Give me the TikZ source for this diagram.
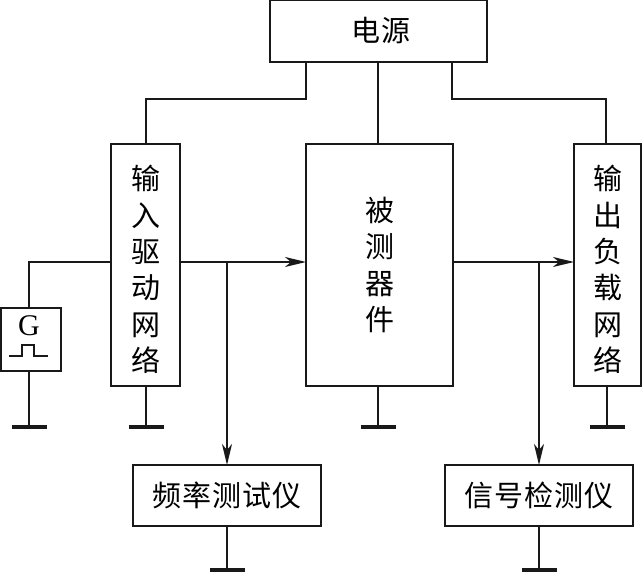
\documentclass[tikz,border=0pt]{standalone}
\usepackage{fontspec}
\usetikzlibrary{arrows.meta,positioning,calc}
\setmainfont{Liberation Serif}
\newfontfamily\cjk{Noto Sans CJK SC}
\newfontfamily\cjkwide[LetterSpace=4]{Noto Sans CJK SC}
\tikzset{
  wire/.style={line width=1.9pt,draw=black!90},
  feed/.style={wire,-{Stealth[length=21pt,width=10pt,inset=6pt]}},
  groundbar/.style={line width=3.8pt,draw=black!90},
  blockbox/.style={draw=black!90,line width=1.9pt,inner sep=0pt,outer sep=0pt,anchor=south west,align=center},
  tallbox/.style={blockbox,font=\fontsize{29}{36.4}\cjk},
  widebox/.style={blockbox,font=\fontsize{29}{30}\cjkwide}
}
\begin{document}
\begin{tikzpicture}[x=1pt,y=1pt]
  \useasboundingbox (0,0) rectangle (643,572);
  % Blocks, placed by lower-left corner (y measured from the bottom edge)
  \node[widebox,minimum width=217pt,minimum height=62pt] (power) at (270,510) {\kern5pt\raisebox{-1.5pt}{电源}};
  \node[tallbox,minimum width=69pt,minimum height=242pt] (input) at (111,186) {\\[-3pt]输\\入\\驱\\动\\网\\络};
  \node[tallbox,minimum width=147pt,minimum height=242pt] (dut) at (306,186) {被\\测\\器\\件};
  \node[tallbox,minimum width=67pt,minimum height=242pt] (output) at (574,186) {\\[-3pt]输\\出\\负\\载\\网\\络};
  \node[blockbox,minimum width=60pt,minimum height=63pt] (gen) at (1,201) {};
  \node[widebox,minimum width=188pt,minimum height=61pt] (freq) at (133,46) {频率测试仪};
  \node[widebox,minimum width=188pt,minimum height=61pt] (detect) at (445,46) {信号检测仪};

  % Generator symbol and its pulse
  \node[font=\fontsize{30}{30}\selectfont,inner sep=0pt] (gname) at (29,246) {G};
  \draw[line width=2.6pt,draw=black!90] (9,216) -- (22,216) -- (22,227) -- (34,227) -- (34,216) -- (48,216);

  % Height of the signal path and its branch points
  \coordinate (sig) at (0,310);
  \coordinate (tapa) at (227,310);
  \coordinate (tapb) at (539,310);
  \coordinate (railL) at (146,473);
  \coordinate (railR) at (606,473);

  % Supply rails
  \draw[wire] (power.south west) ++(36,0) coordinate (pl) -- (pl |- railL) -- (railL) -- (railL |- input.north);
  \draw[wire] (power.south east) ++(-35,0) coordinate (pr) -- (pr |- railR) -- (railR) -- (railR |- output.north);
  \draw[wire] (power.south west) ++(108,0) coordinate (pm) -- (pm |- dut.north);

  % Signal path
  \draw[wire] (gen.north -| 29,0) -- (29,310) -- (input.west |- sig);
  \draw[feed] (input.east |- sig) -- (dut.west |- sig);
  \draw[feed] (dut.east |- sig) -- (output.west |- sig);
  \draw[feed] (tapa) -- (tapa |- freq.north);
  \draw[feed] (tapb) -- (tapb |- detect.north);

  % Ground stubs with their bars
  \foreach \src/\gx/\gy in {gen/29/145, input/146/145, dut/378/145, output/607/145, freq/227/2, detect/539/2}{
    \draw[wire] (\src.south -| \gx,0) -- (\gx,\gy);
    \draw[groundbar] (\gx-17.5,\gy) -- (\gx+17.5,\gy);
  }
\end{tikzpicture}
\end{document}
